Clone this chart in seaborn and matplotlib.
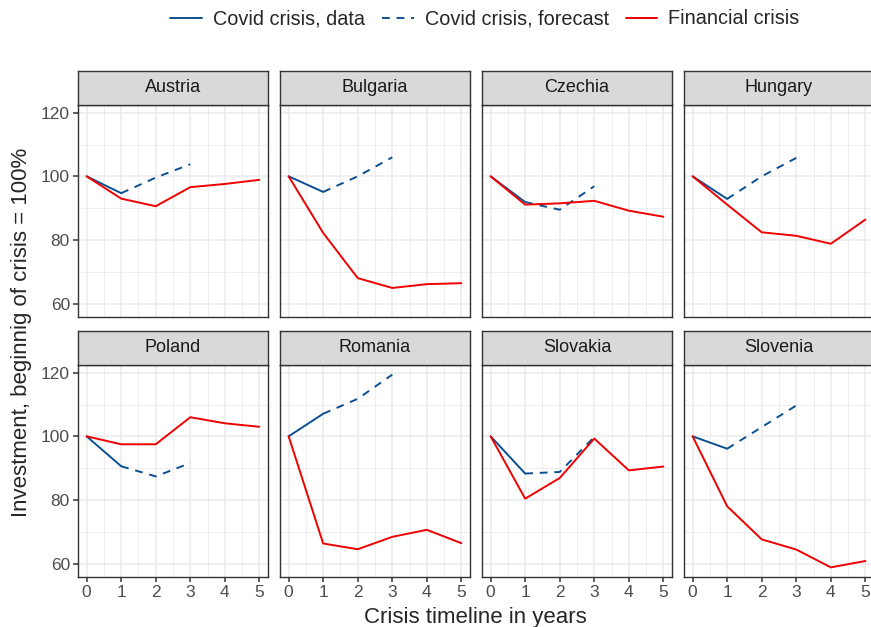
import numpy as np
import pandas as pd
import matplotlib
matplotlib.use('Agg')
import matplotlib.pyplot as plt
from matplotlib.lines import Line2D
import seaborn as sns

# data (index, beginning of crisis = 100)
countries = ['Austria', 'Bulgaria', 'Czechia', 'Hungary',
             'Poland', 'Romania', 'Slovakia', 'Slovenia']
years_data = [0, 1]
years_forecast = [1, 2, 3]
years_fin = [0, 1, 2, 3, 4, 5]

covid_data = [[100, 94.7], [100, 95.1], [100, 91.9], [100, 92.9],
              [100, 90.6], [100, 107.1], [100, 88.3], [100, 96.1]]
covid_forecast = [[94.7, 99.6, 103.8], [95.1, 100.0, 106.0], [91.9, 89.5, 96.9],
                  [92.9, 100.0, 105.8], [90.6, 87.4, 91.6], [107.1, 111.8, 119.4],
                  [88.3, 88.8, 99.8], [96.1, 102.9, 109.7]]
financial = [[100, 93.0, 90.6, 96.6, 97.6, 98.9],
             [100, 82.2, 68.0, 64.9, 66.1, 66.4],
             [100, 91.1, 91.5, 92.3, 89.2, 87.3],
             [100, 91.1, 82.4, 81.3, 78.8, 86.4],
             [100, 97.5, 97.5, 106.0, 104.1, 103.0],
             [100, 66.3, 64.5, 68.4, 70.6, 66.4],
             [100, 80.4, 86.9, 99.3, 89.3, 90.5],
             [100, 78.0, 67.6, 64.4, 58.8, 60.8]]

series_names = ['Covid crisis, data', 'Covid crisis, forecast', 'Financial crisis']
blue = '#0B4F91'
red = '#F00000'

rows = []
for i, c in enumerate(countries):
    for x, y in zip(years_data, covid_data[i]):
        rows.append((c, series_names[0], x, y))
    for x, y in zip(years_forecast, covid_forecast[i]):
        rows.append((c, series_names[1], x, y))
    for x, y in zip(years_fin, financial[i]):
        rows.append((c, series_names[2], x, y))
df = pd.DataFrame(rows, columns=['country', 'series', 'year', 'value'])

# ggplot-like 5% expansion, shared scales
ymin, ymax = df.value.min(), df.value.max()
ypad = 0.05 * (ymax - ymin)

sns.set_style('white')
plt.rcParams['font.family'] = ['Liberation Sans', 'DejaVu Sans']

W, H = 871, 627
fig = plt.figure(figsize=(W / 100, H / 100), dpi=100)

lefts = [78, 280, 482, 684]
pw = 190
tops = [105, 365]
ph = 212
strip_h = 34
edge = '#333333'
grid_col = '#EBEBEB'

palette = {series_names[0]: blue, series_names[1]: blue, series_names[2]: red}
dashes = {series_names[0]: '', series_names[1]: (4, 3.5), series_names[2]: ''}

for i, c in enumerate(countries):
    r, col = divmod(i, 4)
    l = lefts[col]
    t = tops[r]
    ax = fig.add_axes([l / W, 1 - (t + ph) / H, pw / W, ph / H])
    sub = df[df.country == c]
    sns.lineplot(data=sub, x='year', y='value', hue='series', style='series',
                 palette=palette, dashes=dashes, linewidth=1.4, legend=False,
                 ax=ax, zorder=3)
    ax.set_xlim(-0.25, 5.25)
    ax.set_ylim(ymin - ypad, ymax + ypad)
    ax.set_xticks(range(6))
    ax.set_yticks([60, 80, 100, 120])
    ax.set_xticks(np.arange(0.5, 5, 1), minor=True)
    ax.set_yticks([70, 90, 110], minor=True)
    ax.grid(True, which='major', color=grid_col, lw=1.1, zorder=0)
    ax.grid(True, which='minor', color=grid_col, lw=0.6, zorder=0)
    ax.set_axisbelow(True)
    for s in ax.spines.values():
        s.set_color(edge)
        s.set_linewidth(1.0)
    ax.set_xlabel('')
    ax.set_ylabel('')
    ax.tick_params(which='minor', length=0)
    ax.tick_params(which='major', bottom=(r == 1), left=(col == 0),
                   labelbottom=(r == 1), labelleft=(col == 0),
                   length=3.8, width=1.1, color=edge,
                   labelsize=12.5, labelcolor='#4D4D4D', pad=2)
    # facet strip
    sax = fig.add_axes([l / W, 1 - t / H, pw / W, strip_h / H])
    sax.set_facecolor('#D9D9D9')
    sax.set_xticks([])
    sax.set_yticks([])
    for s in sax.spines.values():
        s.set_color(edge)
        s.set_linewidth(1.0)
    sax.text(0.5, 0.5, c, ha='center', va='center', fontsize=13,
             color='#1A1A1A', transform=sax.transAxes)

fig.text(475 / W, 1 - 617 / H, 'Crisis timeline in years',
         ha='center', va='center', fontsize=16)
fig.text(22 / W, 1 - 332 / H, 'Investment, beginnig of crisis = 100%',
         ha='center', va='center', rotation=90, fontsize=16)

handles = [Line2D([], [], color=blue, lw=1.4),
           Line2D([], [], color=blue, lw=1.4, ls=(0, (4, 3.5))),
           Line2D([], [], color=red, lw=1.4)]
fig.legend(handles, series_names, loc='center', bbox_to_anchor=(485 / W, 1 - 19 / H),
           ncol=3, frameon=False, fontsize=14.3, handlelength=1.6,
           columnspacing=0.85, handletextpad=0.55)

fig.savefig('out.png', dpi=100)
